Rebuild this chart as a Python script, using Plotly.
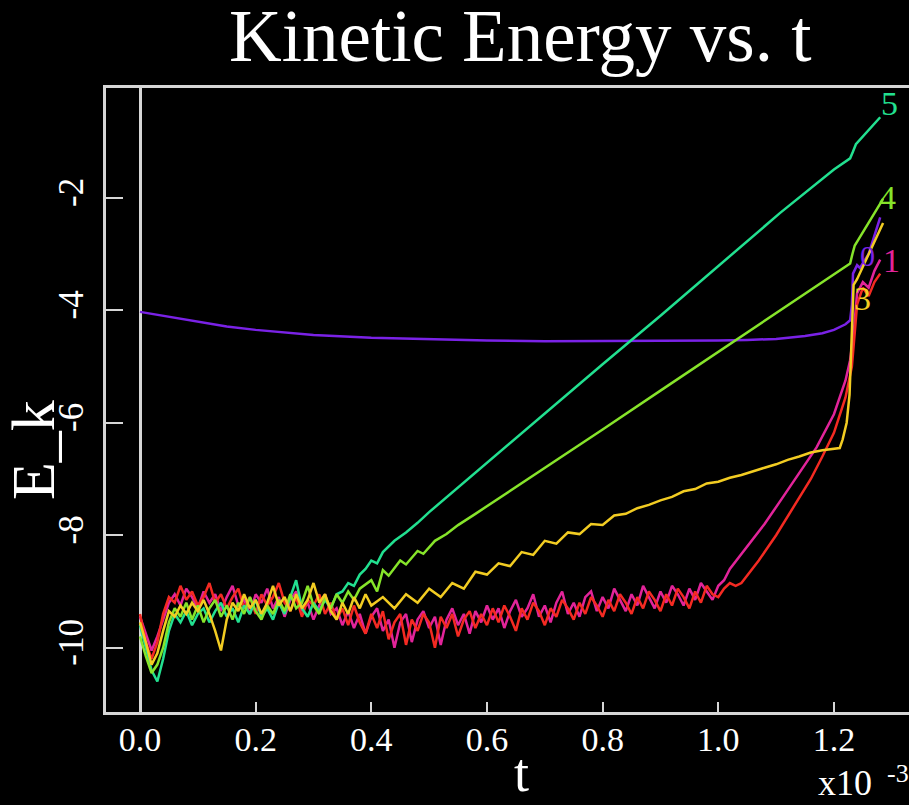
import plotly.graph_objects as go

# ---------------- data (t in units of 1e-3) ----------------
STEP = 0.01

def grid(n):
    return [round(i * STEP, 2) for i in range(n)]

# series 1 (magenta): noisy part sampled every 0.01 from t=0
mag_noise = [-9.45, -9.75, -10.05, -9.80, -9.50, -9.20, -9.05, -9.25, -8.95, -9.10,
             -9.30, -9.00, -9.20, -9.05, -9.35, -9.10, -8.90, -9.25, -9.15, -9.40,
             -9.05, -9.20, -8.95, -9.30, -9.10, -9.45, -9.15, -9.00, -9.35, -9.20,
             -9.50, -9.25, -9.05, -9.40, -9.30, -9.60, -9.35, -9.65, -9.40, -9.75,
             -9.45, -9.30, -9.70, -9.50, -10.00, -9.55, -9.40, -9.90, -9.50, -9.35,
             -9.65, -9.45, -9.95, -9.50, -9.30, -9.60, -9.40, -9.75, -9.35, -9.55,
             -9.25, -9.50, -9.30, -9.65, -9.35, -9.15, -9.45, -9.30, -9.05, -9.45,
             -9.25, -9.55, -9.20, -9.00, -9.40, -9.20, -9.45, -9.10, -9.00, -9.35,
             -9.10, -9.30, -8.95, -9.15, -9.35, -9.05, -9.25, -8.90, -9.10, -9.30,
             -9.00, -9.20, -8.90, -9.05, -9.25, -8.95, -9.15, -8.85, -9.00, -9.15,
             -8.90, -8.80, -8.60]
mag_tail_t = [1.05, 1.08, 1.11, 1.14, 1.17, 1.20, 1.22, 1.228, 1.235, 1.24, 1.25, 1.26, 1.27, 1.28]
mag_tail_y = [-8.20, -7.80, -7.35, -6.90, -6.44, -5.85, -5.25, -4.89, -4.30, -3.70, -3.50, -3.60, -3.30, -3.10]

# series 2 (red)
red_noise = [-9.40, -9.90, -10.20, -9.90, -9.40, -9.10, -9.20, -8.90, -9.15, -9.00,
             -9.25, -9.10, -8.85, -9.20, -9.05, -9.30, -9.10, -8.95, -9.30, -9.10,
             -9.40, -9.05, -9.25, -9.10, -8.85, -9.20, -9.35, -9.10, -9.45, -9.15,
             -9.25, -9.05, -9.40, -9.20, -9.50, -9.30, -9.60, -9.25, -9.55, -9.75,
             -9.40, -9.65, -9.35, -9.85, -9.55, -9.40, -9.95, -9.50, -9.70, -9.40,
             -9.55, -10.00, -9.45, -9.65, -9.40, -9.80, -9.50, -9.35, -9.65, -9.40,
             -9.60, -9.30, -9.55, -9.25, -9.45, -9.70, -9.30, -9.50, -9.20, -9.35,
             -9.60, -9.30, -9.45, -9.15, -9.30, -9.50, -9.20, -9.40, -9.10, -9.25,
             -9.45, -9.15, -9.35, -9.05, -9.20, -9.40, -9.10, -9.30, -9.00, -9.15,
             -9.35, -9.05, -9.25, -8.95, -9.10, -9.30, -9.00, -9.20, -8.90, -9.05,
             -9.10, -8.95, -8.85, -8.90, -8.85]
red_tail_t = [1.07, 1.10, 1.13, 1.16, 1.18, 1.20, 1.22, 1.231, 1.236, 1.24, 1.25, 1.26, 1.27, 1.28]
red_tail_y = [-8.45, -8.00, -7.50, -7.00, -6.60, -6.18, -5.55, -5.00, -4.40, -3.90, -3.60, -3.75, -3.50, -3.35]

# series 3 (yellow)
yel_noise = [-9.55, -9.90, -10.30, -10.10, -9.70, -9.35, -9.45, -9.25, -9.40, -9.20,
             -9.35, -9.15, -9.40, -9.70, -10.05, -9.50, -9.20, -9.35, -9.05, -9.30,
             -9.15, -9.40, -9.20, -8.90, -9.25, -9.10, -9.35, -9.05, -9.30, -9.15,
             -8.85, -9.20, -9.05, -9.35, -9.50, -9.20, -9.40, -9.10, -9.30, -9.05,
             -9.25]
yel_tail_t = [0.42, 0.44, 0.46, 0.48, 0.50, 0.52, 0.54, 0.56, 0.58, 0.60,
              0.62, 0.64, 0.66, 0.68, 0.70, 0.72, 0.74, 0.76, 0.78, 0.80,
              0.82, 0.84, 0.86, 0.88, 0.90, 0.92, 0.94, 0.96, 0.98, 1.00,
              1.02, 1.04, 1.06, 1.08, 1.10, 1.12, 1.14, 1.16, 1.18, 1.20,
              1.21, 1.215, 1.222, 1.227, 1.230, 1.232, 1.234, 1.24, 1.285]
yel_tail_y = [-9.10, -9.30, -9.05, -9.20, -8.95, -9.10, -8.85, -8.95, -8.65, -8.70,
              -8.50, -8.55, -8.30, -8.35, -8.10, -8.15, -7.95, -7.98, -7.80, -7.82,
              -7.65, -7.62, -7.52, -7.46, -7.38, -7.32, -7.22, -7.18, -7.08, -7.05,
              -6.98, -6.93, -6.86, -6.80, -6.74, -6.66, -6.60, -6.53, -6.49, -6.47,
              -6.45, -6.30, -6.00, -5.50, -4.60, -3.90, -3.55, -3.45, -2.45]

# series 4 (green)
grn_noise = [-9.80, -10.15, -10.45, -10.30, -10.00, -9.55, -9.30, -9.45, -9.20, -9.50,
             -9.25, -9.55, -9.30, -9.15, -9.45, -9.25, -9.50, -9.20, -9.40, -9.10,
             -9.35, -9.50, -9.25, -9.40, -9.15, -9.35, -9.05, -9.30, -9.20, -8.90,
             -9.25, -9.40, -9.10, -9.30, -9.05, -9.20, -9.00, -9.15, -8.95]
grn_tail_t = [0.40, 0.41, 0.42, 0.43, 0.45, 0.46, 0.48, 0.49, 0.51, 0.53, 0.55, 0.58,
              0.62, 0.70, 0.80, 0.90, 1.00, 1.107, 1.20, 1.228, 1.232, 1.236, 1.242,
              1.262, 1.285]
grn_tail_y = [-8.80, -9.00, -8.62, -8.72, -8.45, -8.52, -8.28, -8.33, -8.10, -7.98, -7.82, -7.62,
              -7.35, -6.80, -6.12, -5.43, -4.74, -4.00, -3.37, -3.17, -3.00, -2.85, -2.75,
              -2.40, -2.02]

# series 5 (teal)
tea_noise = [-9.60, -10.00, -10.40, -10.60, -10.20, -9.70, -9.40, -9.55, -9.35, -9.60,
             -9.40, -9.30, -9.55, -9.35, -9.20, -9.45, -9.30, -9.55, -9.25, -9.40,
             -9.15, -9.45, -9.30, -9.50, -9.20, -9.40, -9.10, -8.80, -9.30, -9.45,
             -9.20, -9.35, -9.15, -9.30, -9.05]
tea_tail_t = [0.35, 0.36, 0.37, 0.38, 0.39, 0.40, 0.41, 0.42, 0.44, 0.46, 0.48, 0.50,
              0.60, 0.70, 0.80, 0.90, 1.00, 1.107, 1.20, 1.228, 1.233, 1.238, 1.28]
tea_tail_y = [-9.00, -8.85, -8.90, -8.70, -8.60, -8.45, -8.50, -8.30, -8.10, -7.95, -7.78, -7.59,
              -6.71, -5.84, -4.96, -4.10, -3.22, -2.27, -1.50, -1.30, -1.18, -1.05, -0.57]

# series 0 (purple)
pur_t = [0.0, 0.05, 0.10, 0.15, 0.20, 0.25, 0.30, 0.40, 0.50, 0.60, 0.70, 0.80, 0.90,
         1.00, 1.05, 1.10, 1.15, 1.18, 1.20, 1.22, 1.228, 1.231, 1.233, 1.24, 1.245,
         1.26, 1.28]
pur_y = [-4.03, -4.12, -4.21, -4.29, -4.35, -4.40, -4.44, -4.49, -4.52, -4.54, -4.55, -4.55, -4.55,
         -4.54, -4.53, -4.51, -4.46, -4.41, -4.35, -4.25, -4.18, -3.90, -3.35, -3.20, -3.25,
         -3.00, -2.35]

xtick_vals = [0.0, 0.2, 0.4, 0.6, 0.8, 1.0, 1.2]
xtick_text = ["0.0", "0.2", "0.4", "0.6", "0.8", "1.0", "1.2"]
ytick_vals = [-2, -4, -6, -8, -10]
ytick_text = ["-2", "-4", "-6", "-8", "-10"]

COL = {"0": "#7a22e6", "1": "#e2249a", "2": "#f42a22", "3": "#f2cc22",
       "4": "#86e42a", "5": "#22e090"}

series = [
    ("0", pur_t, pur_y),
    ("1", grid(len(mag_noise)) + mag_tail_t, mag_noise + mag_tail_y),
    ("2", grid(len(red_noise)) + red_tail_t, red_noise + red_tail_y),
    ("5", grid(len(tea_noise)) + tea_tail_t, tea_noise + tea_tail_y),
    ("4", grid(len(grn_noise)) + grn_tail_t, grn_noise + grn_tail_y),
    ("3", grid(len(yel_noise)) + yel_tail_t, yel_noise + yel_tail_y),
]

fig = go.Figure()
for name, t, y in series:
    fig.add_trace(go.Scatter(x=t, y=y, mode="lines", name=name,
                             line=dict(color=COL[name], width=2.5)))

SERIF = "Liberation Serif"
AXC = "#d6d6d6"
W, H = 909, 805
L, R, T, B = 106, 0, 88, 93
PW, PH = W - L - R, H - T - B


def px(xp):
    return (xp - L) / PW


def py(yp):
    return (H - B - yp) / PH


fig.update_layout(
    width=W, height=H,
    paper_bgcolor="black", plot_bgcolor="black",
    margin=dict(l=L, r=R, t=T, b=B),
    showlegend=False,
    font=dict(family=SERIF, color="white"),
)
fig.update_xaxes(
    range=[-0.0588, 1.3298], tickvals=xtick_vals, ticktext=xtick_text,
    ticks="inside", ticklen=10, tickwidth=2, tickcolor=AXC,
    ticklabelstandoff=-5,
    showline=True, linecolor=AXC, linewidth=2.5, mirror=True,
    zeroline=True, zerolinecolor=AXC, zerolinewidth=2.5, showgrid=False,
    tickfont=dict(family=SERIF, size=34, color="white"),
)
fig.update_yaxes(
    range=[-11.143, -0.05], tickvals=ytick_vals, ticktext=ytick_text,
    ticks="inside", ticklen=17, tickwidth=2, tickcolor=AXC, tickangle=-90,
    ticklabelstandoff=6,
    showline=True, linecolor=AXC, linewidth=2.5, mirror=False,
    zeroline=False, showgrid=False,
    tickfont=dict(family=SERIF, size=35, color="white"),
)

# text annotations (paper coordinates)
fig.add_annotation(text="Kinetic Energy vs. t", xref="paper", yref="paper",
                   x=px(520), y=py(36), xanchor="center", yanchor="middle",
                   showarrow=False, font=dict(family=SERIF, size=73, color="white"))
fig.add_annotation(text="E_k", xref="paper", yref="paper", textangle=-90,
                   x=px(33), y=py(450), xanchor="center", yanchor="middle",
                   showarrow=False, font=dict(family=SERIF, size=62, color="white"))
fig.add_annotation(text="t", xref="paper", yref="paper",
                   x=px(521), y=py(805), xanchor="center", yanchor="bottom",
                   showarrow=False, font=dict(family=SERIF, size=54, color="white"))
fig.add_annotation(text="x10", xref="paper", yref="paper",
                   x=px(845), y=py(805), xanchor="center", yanchor="bottom",
                   showarrow=False, font=dict(family=SERIF, size=36, color="white"))
fig.add_annotation(text="-3", xref="paper", yref="paper",
                   x=px(885), y=py(773), xanchor="left", yanchor="middle",
                   showarrow=False, font=dict(family=SERIF, size=26, color="white"))

label_pos = [("0", 867, 255), ("5", 889, 103), ("4", 887, 197),
             ("1", 891, 260), ("3", 862, 298)]
for name, lx, ly in label_pos:
    fig.add_annotation(text=name, xref="paper", yref="paper",
                       x=px(lx), y=py(ly), xanchor="center", yanchor="middle",
                       showarrow=False,
                       font=dict(family=SERIF, size=30 if name == "0" else 34, color=COL[name]))

fig.write_html(
    "out.html",
    config={"displayModeBar": False},
    post_script="document.body.style.margin='0';document.body.style.background='black';",
)
